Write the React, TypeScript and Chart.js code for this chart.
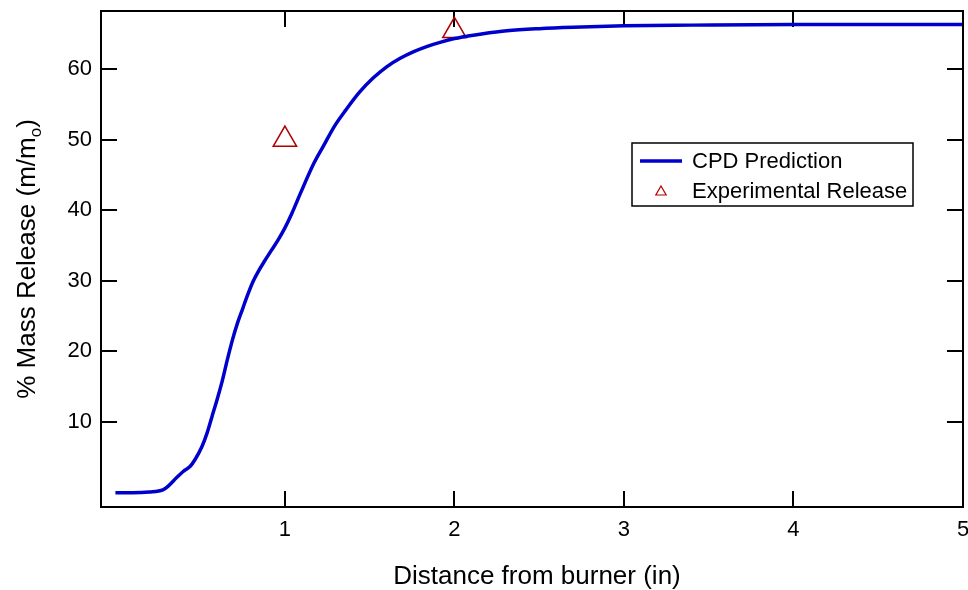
import React, { useEffect, useRef } from 'react';
import { Chart, registerables } from 'chart.js';

Chart.register(...registerables);

// CPD prediction curve (distance in inches, % mass release)
const cpdX = [0, 0.1, 0.2, 0.28, 0.31, 0.36, 0.4, 0.44, 0.47, 0.51, 0.54, 0.57, 0.6, 0.63, 0.66, 0.69, 0.72, 0.75, 0.78, 0.81, 0.84, 0.88, 0.92, 0.96, 1.0, 1.04, 1.09, 1.17, 1.23, 1.29, 1.36, 1.44, 1.52, 1.6, 1.68, 1.76, 1.84, 1.92, 2.0, 2.08, 2.16, 2.31, 2.5, 2.7, 3.0, 3.4, 4.0, 5.0];
const cpdY = [0, 0, 0.1, 0.4, 0.9, 2.1, 3.0, 3.7, 4.7, 6.5, 8.4, 10.8, 13.2, 15.8, 18.8, 21.6, 24.0, 26.0, 28.0, 29.8, 31.2, 32.8, 34.3, 35.8, 37.5, 39.5, 42.3, 46.6, 49.2, 51.8, 54.2, 56.7, 58.7, 60.3, 61.5, 62.45, 63.2, 63.8, 64.3, 64.65, 64.95, 65.4, 65.7, 65.9, 66.1, 66.2, 66.3, 66.3];

// Experimental release points
const expX = [1, 2];
const expY = [50, 65.4];

const seriesLabels = ['CPD Prediction', 'Experimental Release'];
const xTickValues = [1, 2, 3, 4, 5];
const yTickValues = [10, 20, 30, 40, 50, 60];
const xTitle = 'Distance from burner (in)';
const yTitleMain = '% Mass Release (m/m';
const yTitleSub = 'o';
const yTitleEnd = ')';

const X_MIN = -0.085;
const X_MAX = 5;
const Y_MIN = -2.03;
const Y_MAX = 68.2;

const FONT = '"Liberation Sans", Arial, sans-serif';
const LINE_COLOR = '#0000cc';
const TRI_COLOR = '#b00000';

const framePlugin = {
  id: 'frameTicks',
  beforeDatasetsDraw(chart: any) {
    const { ctx, chartArea: a, scales } = chart;
    ctx.save();
    ctx.strokeStyle = '#000';
    ctx.lineWidth = 2;
    const L = 16;
    ctx.beginPath();
    xTickValues.forEach((v) => {
      const px = Math.round(scales.x.getPixelForValue(v));
      ctx.moveTo(px, a.bottom);
      ctx.lineTo(px, a.bottom - L);
      ctx.moveTo(px, a.top);
      ctx.lineTo(px, a.top + L);
    });
    yTickValues.forEach((v) => {
      const py = Math.round(scales.y.getPixelForValue(v));
      ctx.moveTo(a.left, py);
      ctx.lineTo(a.left + L, py);
      ctx.moveTo(a.right, py);
      ctx.lineTo(a.right - L, py);
    });
    ctx.stroke();
    ctx.restore();
  },
  afterDatasetsDraw(chart: any) {
    const { ctx, chartArea: a } = chart;
    ctx.save();
    ctx.strokeStyle = '#000';
    ctx.lineWidth = 2;
    ctx.strokeRect(a.left, a.top, a.right - a.left, a.bottom - a.top);
    ctx.restore();
  },
};

const titlesPlugin = {
  id: 'axisTitles',
  afterDraw(chart: any) {
    const { ctx, chartArea: a } = chart;
    ctx.save();
    ctx.fillStyle = '#000';
    // x title
    ctx.font = `26px ${FONT}`;
    ctx.textAlign = 'center';
    ctx.textBaseline = 'alphabetic';
    ctx.fillText(xTitle, (a.left + a.right) / 2 + 5, 584);
    // y title (rotated), centred on the plot area
    ctx.font = `26px ${FONT}`;
    const w1 = ctx.measureText(yTitleMain).width;
    const w3 = ctx.measureText(yTitleEnd).width;
    ctx.font = `17px ${FONT}`;
    const w2 = ctx.measureText(yTitleSub).width;
    const total = w1 + w2 + w3;
    const cy = (a.top + a.bottom) / 2;
    ctx.translate(35, cy + total / 2);
    ctx.rotate(-Math.PI / 2);
    ctx.textAlign = 'left';
    ctx.textBaseline = 'alphabetic';
    ctx.font = `26px ${FONT}`;
    ctx.fillText(yTitleMain, 0, 0);
    ctx.font = `17px ${FONT}`;
    ctx.fillText(yTitleSub, w1, 6);
    ctx.font = `26px ${FONT}`;
    ctx.fillText(yTitleEnd, w1 + w2, 0);
    ctx.restore();
  },
};

const legendPlugin = {
  id: 'boxLegend',
  afterDraw(chart: any) {
    const { ctx } = chart;
    const ds = chart.data.datasets;
    ctx.save();
    ctx.fillStyle = '#fff';
    ctx.fillRect(632, 143, 281, 63);
    ctx.strokeStyle = '#000';
    ctx.lineWidth = 1.5;
    ctx.strokeRect(632, 143, 281, 63);
    // line sample
    ctx.strokeStyle = LINE_COLOR;
    ctx.lineWidth = 3.5;
    ctx.beginPath();
    ctx.moveTo(640, 161);
    ctx.lineTo(682, 161);
    ctx.stroke();
    // triangle sample
    const cx = 661, cy = 192, r = 6;
    ctx.strokeStyle = TRI_COLOR;
    ctx.lineWidth = 1.2;
    ctx.beginPath();
    for (let i = 0; i < 3; i++) {
      const ang = (i * 2 * Math.PI) / 3;
      const px = cx + Math.sin(ang) * r;
      const py = cy - Math.cos(ang) * r;
      if (i === 0) ctx.moveTo(px, py);
      else ctx.lineTo(px, py);
    }
    ctx.closePath();
    ctx.stroke();
    ctx.fillStyle = '#000';
    ctx.font = `22px ${FONT}`;
    ctx.textAlign = 'left';
    ctx.textBaseline = 'middle';
    ctx.fillText(ds[0].label, 692, 162);
    ctx.fillText(ds[1].label, 692, 192);
    ctx.restore();
  },
};

export default function App() {
  const ref = useRef<HTMLCanvasElement | null>(null);

  useEffect(() => {
    if (!ref.current) return;
    const chart = new Chart(ref.current, {
      type: 'line',
      data: {
        datasets: [
          {
            label: seriesLabels[0],
            data: cpdX.map((x, i) => ({ x, y: cpdY[i] })),
            borderColor: LINE_COLOR,
            backgroundColor: LINE_COLOR,
            borderWidth: 3.5,
            pointRadius: 0,
            cubicInterpolationMode: 'monotone',
            fill: false,
            clip: 4,
          },
          {
            label: seriesLabels[1],
            data: expX.map((x, i) => ({ x, y: expY[i] })),
            showLine: false,
            pointStyle: 'triangle',
            pointRadius: 13.5,
            pointBorderWidth: 1.5,
            borderColor: TRI_COLOR,
            backgroundColor: 'rgba(0,0,0,0)',
            pointBackgroundColor: 'rgba(0,0,0,0)',
            pointBorderColor: TRI_COLOR,
            clip: 20,
          },
        ],
      },
      options: {
        responsive: false,
        animation: false,
        layout: { autoPadding: false, padding: { top: 11, right: 5, left: 0, bottom: 0 } },
        plugins: {
          legend: { display: false },
          tooltip: { enabled: false },
        },
        scales: {
          x: {
            type: 'linear',
            min: X_MIN,
            max: X_MAX,
            grid: { display: false, drawTicks: false },
            border: { display: false },
            afterBuildTicks: (scale: any) => {
              scale.ticks = xTickValues.map((v) => ({ value: v }));
            },
            afterFit: (scale: any) => {
              scale.height = 83;
              scale.paddingLeft = 0;
              scale.paddingRight = 0;
            },
            ticks: {
              color: '#000',
              padding: 10,
              maxRotation: 0,
              font: { family: FONT, size: 22 },
              callback: (v: any) => String(v),
            },
          },
          y: {
            type: 'linear',
            min: Y_MIN,
            max: Y_MAX,
            grid: { display: false, drawTicks: false },
            border: { display: false },
            afterBuildTicks: (scale: any) => {
              scale.ticks = yTickValues.map((v) => ({ value: v }));
            },
            afterFit: (scale: any) => {
              scale.width = 101;
              scale.paddingTop = 0;
              scale.paddingBottom = 0;
            },
            ticks: {
              color: '#000',
              padding: 9,
              font: { family: FONT, size: 22 },
              callback: (v: any) => String(v),
            },
          },
        },
      },
      plugins: [framePlugin, titlesPlugin, legendPlugin],
    });
    return () => chart.destroy();
  }, []);

  return (
    <canvas
      ref={ref}
      width={968}
      height={590}
      style={{ position: 'absolute', left: 0, top: 0, display: 'block', width: 968, height: 590 }}
    />
  );
}
